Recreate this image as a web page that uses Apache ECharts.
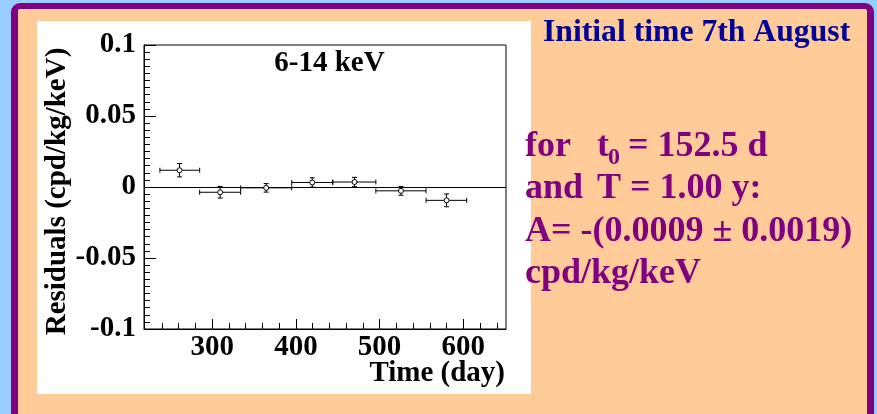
<!DOCTYPE html>
<html>
<head>
<meta charset="utf-8">
<script src="https://cdn.jsdelivr.net/npm/echarts@6/dist/echarts.min.js"></script>
<style>
html,body{margin:0;padding:0;background:#99CCFF;}
#chart{width:877px;height:414px;}
</style>
</head>
<body>
<div id="chart"></div>
<script>
// ---- data ----
const timeDays  = [261, 309.5, 364.5, 419.5, 470, 525.5, 580];
const binStart  = [237.5, 285, 334, 395, 444, 495.5, 555.5];
const binEnd    = [285, 334, 395, 444, 495.5, 555.5, 604];
const residuals = [0.0118, -0.0037, -0.0006, 0.0032, 0.0035, -0.0027, -0.0094];
const errors    = [0.0047, 0.0041, 0.0030, 0.0033, 0.0033, 0.0031, 0.0045];
const xMajorTicks = [300, 400, 500, 600];
const xMinorTicks = [240, 260, 280, 320, 340, 360, 380, 420, 440, 460, 480, 520, 540, 560, 580, 620, 640];
const yMajorTicks = [-0.1, -0.05, 0, 0.05, 0.1];
const xRange = [218.5, 651];
const yRange = [-0.1, 0.1];
const yMinorInterval = 0.005;
const panelTitle = '6-14 keV';
const headerText = 'Initial time 7th August';

const SERIF = "'Liberation Serif','Times New Roman',serif";
const data = timeDays.map((t, i) => [t, residuals[i], binStart[i], binEnd[i], errors[i]]);

const chart = echarts.init(document.getElementById('chart'), null, {renderer: 'canvas'});

function txt(text, x, y, size, color, align, extra) {
  return Object.assign({
    type: 'text', x: x, y: y, z: 20,
    style: {text: text, fill: color, font: 'bold ' + size + 'px ' + SERIF,
            textAlign: align || 'left', textVerticalAlign: 'middle'}
  }, extra || {});
}

const tickLine = {color: '#000', width: 1};

const option = {
  backgroundColor: '#99CCFF',
  animation: false,
  grid: {left: 144, right: 371, top: 45, bottom: 85, show: true,
         borderColor: '#000', borderWidth: 1, backgroundColor: 'transparent', z: 3},
  xAxis: [{
    type: 'value', min: xRange[0], max: xRange[1], position: 'bottom',
    axisLine: {show: true, onZero: false, lineStyle: tickLine},
    splitLine: {show: false},
    axisTick: {show: true, inside: true, length: 10, customValues: xMajorTicks, lineStyle: tickLine},
    axisLabel: {show: true, customValues: xMajorTicks, margin: 4,
                color: '#000', fontSize: 29, fontWeight: 'bold', fontFamily: SERIF}
  }, {
    type: 'value', min: xRange[0], max: xRange[1], position: 'bottom',
    axisLine: {show: false, onZero: false}, splitLine: {show: false}, axisLabel: {show: false},
    axisTick: {show: true, inside: true, length: 6, customValues: xMinorTicks, lineStyle: tickLine}
  }],
  yAxis: [{
    type: 'value', min: yRange[0], max: yRange[1], interval: yMinorInterval, position: 'left',
    axisLine: {show: true, onZero: false, lineStyle: tickLine},
    splitLine: {show: false},
    axisTick: {show: true, inside: true, length: 6, lineStyle: tickLine},
    axisLabel: {show: true, customValues: yMajorTicks, margin: 8, color: '#000',
                fontSize: 29, fontWeight: 'bold', fontFamily: SERIF}
  }, {
    type: 'value', min: yRange[0], max: yRange[1], position: 'left',
    axisLine: {show: false, onZero: false}, splitLine: {show: false}, axisLabel: {show: false},
    axisTick: {show: true, inside: true, length: 12, customValues: yMajorTicks, lineStyle: tickLine}
  }],
  graphic: [
    {type: 'rect', z: -10, shape: {x: 11, y: 3, width: 863, height: 440, r: 9},
     style: {fill: '#800080'}},
    {type: 'rect', z: -9, shape: {x: 18, y: 9, width: 849, height: 440, r: 2},
     style: {fill: '#FFCC99'}},
    {type: 'rect', z: -8, shape: {x: 37, y: 21, width: 494, height: 373},
     style: {fill: '#FFFFFF'}},
    txt(panelTitle, 329.5, 64, 29, '#000', 'center'),
    txt('Time (day)', 505, 374, 29, '#000', 'right'),
    txt('Residuals (cpd/kg/keV)', 58, 191.5, 29, '#000', 'center', {rotation: Math.PI / 2}),
    txt(headerText, 543, 33, 31.7, '#000099', 'left'),
    txt('for', 525, 147, 36, '#800080', 'left'),
    txt('t', 597, 147, 36, '#800080', 'left'),
    txt('0', 608, 158, 24, '#800080', 'left'),
    txt('= 152.5 d', 628, 147, 36, '#800080', 'left'),
    txt('and', 525, 189, 36, '#800080', 'left'),
    txt('T = 1.00 y:', 597, 189, 36, '#800080', 'left'),
    txt('A= -(0.0009 \u00b1 0.0019)', 525, 232, 36, '#800080', 'left'),
    txt('cpd/kg/keV', 525, 274, 36, '#800080', 'left')
  ],
  series: [{
    type: 'custom',
    xAxisIndex: 0, yAxisIndex: 0,
    data: data,
    z: 5,
    renderItem: function (params, api) {
      const x = api.value(0), y = api.value(1), xl = api.value(2), xh = api.value(3), e = api.value(4);
      const c = api.coord([x, y]);
      const l = api.coord([xl, y]);
      const h = api.coord([xh, y]);
      const t = api.coord([x, y + e]);
      const b = api.coord([x, y - e]);
      const cap = 2.5;
      const st = {stroke: '#000', lineWidth: 1, fill: null};
      const ln = (x1, y1, x2, y2) => ({type: 'line', shape: {x1, y1, x2, y2}, style: st});
      return {
        type: 'group',
        children: [
          ln(l[0], l[1], h[0], h[1]),
          ln(l[0], l[1] - cap, l[0], l[1] + cap),
          ln(h[0], h[1] - cap, h[0], h[1] + cap),
          ln(t[0], t[1], b[0], b[1]),
          ln(t[0] - cap, t[1], t[0] + cap, t[1]),
          ln(b[0] - cap, b[1], b[0] + cap, b[1]),
          {type: 'circle', shape: {cx: c[0], cy: c[1], r: 2.5},
           style: {fill: '#fff', stroke: '#000', lineWidth: 1}}
        ]
      };
    },
    markLine: {
      silent: true, symbol: 'none', animation: false,
      label: {show: false},
      lineStyle: {color: '#000', width: 1, type: 'solid'},
      data: [{yAxis: 0}]
    }
  }]
};
chart.setOption(option);
</script>
</body>
</html>
